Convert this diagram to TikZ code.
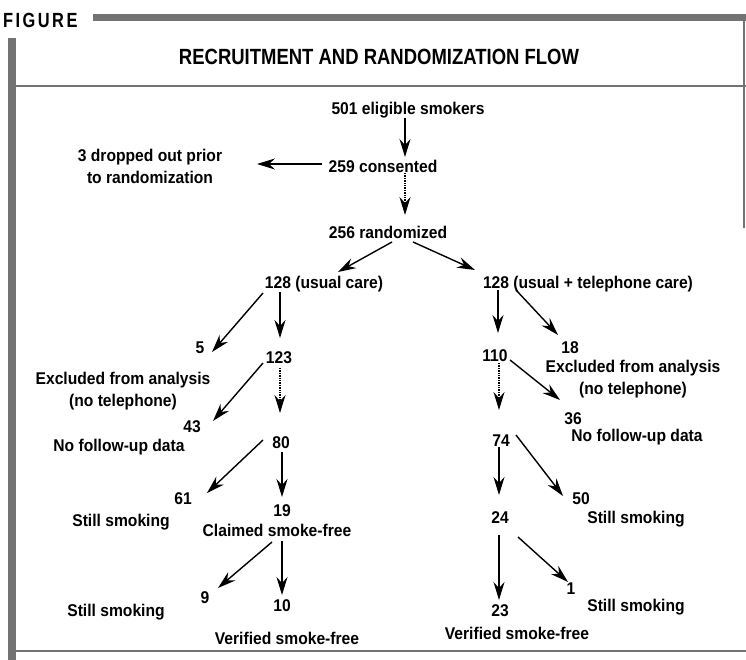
\documentclass[tikz,border=0pt]{standalone}
\usepackage{fontspec}
\setmainfont{Liberation Sans}
\newfontfamily\cond{Liberation Sans}[FakeStretch=0.92]
\newfontfamily\condt{Liberation Sans}[FakeStretch=0.84]
\newfontfamily\figfont{Liberation Sans}[FakeStretch=0.8,LetterSpace=12]
\usetikzlibrary{arrows.meta}
\tikzset{
  txt/.style={font=\cond\bfseries\fontsize{17}{22}\selectfont, inner sep=0pt, text height=12.2pt, text depth=0pt},
  txtm/.style={font=\cond\bfseries\fontsize{17}{22}\selectfont, inner sep=0pt, align=center, anchor=base},
  arr/.style={line width=1.4pt, -{Stealth[length=18pt,width=11pt,inset=6pt]}},
  darr/.style={arr, densely dotted},
  rule/.style={draw=black!55, line width=1.8pt},
  bar/.style={fill=black!55}
}
\begin{document}
\begin{tikzpicture}[x=1pt,y=-1pt]
\useasboundingbox (0,0) rectangle (746,660);
% frame
\node[font=\figfont\bfseries\fontsize{20.5}{21}\selectfont, inner sep=0pt, anchor=west, text height=14.7pt, text depth=0pt] (fig) at (3,20) {FIGURE};
\fill[bar] (93,14) rectangle (746,21);
\fill[bar] (8,38) rectangle (16,660);
\draw[rule] (16,86) -- (746,86);
\draw[draw=black!55, line width=1.4pt] (744,21) -- (744,228);
\draw[draw=black!55, line width=2.5pt] (16,651) -- (746,651);
\node[font=\condt\bfseries\fontsize{22}{22}\selectfont, inner sep=0pt, text height=15.8pt, text depth=0pt] (title) at (379,57) {RECRUITMENT AND RANDOMIZATION FLOW};
% nodes
\node[txt] (n501) at (408,108) {501 eligible smokers};
\node[txt] (n259) at (383,166) {259 consented};
\node[txtm] (ndrop) at (150,184) {3 dropped out prior\\to randomization};
\node[txt] (n256) at (388,232) {256 randomized};
\node[txt] (nuc) at (324,282) {128 (usual care)};
\node[txt] (ntc) at (588,282) {128 (usual + telephone care)};
\node[txt] (n5) at (200,347) {5};
\node[txt] (n123) at (279,357) {123};
\node[txtm] (nexL) at (123,406) {Excluded from analysis\\(no telephone)};
\node[txt] (n43) at (192,426) {43};
\node[txt] (nnfL) at (119,445) {No follow-up data};
\node[txt] (n80) at (281,442) {80};
\node[txt] (n61) at (183,498) {61};
\node[txt] (nssL1) at (121,520) {Still smoking};
\node[txt] (n19) at (282,510) {19};
\node[txt] (nclaim) at (277,530) {Claimed smoke-free};
\node[txt] (n9) at (205,597) {9};
\node[txt] (nssL2) at (116,610) {Still smoking};
\node[txt] (n10) at (282,605) {10};
\node[txt] (nverL) at (287,638) {Verified smoke-free};
\node[txt] (n18) at (570,347) {18};
\node[txt] (n110) at (495,355) {110};
\node[txtm] (nexR) at (633,394) {Excluded from analysis\\(no telephone)};
\node[txt] (n36) at (573,418) {36};
\node[txt] (nnfR) at (637,435) {No follow-up data};
\node[txt] (n74) at (501,440) {74};
\node[txt] (n50) at (581,498) {50};
\node[txt] (nssR1) at (636,517) {Still smoking};
\node[txt] (n24) at (500,517) {24};
\node[txt] (n1) at (571,588) {1};
\node[txt] (nssR2) at (636,605) {Still smoking};
\node[txt] (n23) at (500,610) {23};
\node[txt] (nverR) at (517,633) {Verified smoke-free};
% arrows
\draw[arr] ([shift={(-3,10)}]n501.center) -- ([shift={(22,-9)}]n259.center);
\draw[arr] ([shift={(-61,-2)}]n259.center) -- ([shift={(107,-20)}]ndrop.base);
\draw[darr] ([shift={(22,7)}]n259.center) -- ([shift={(17,-17)}]n256.center);
\draw[arr] ([shift={(4,10)}]n256.center) -- ([shift={(14,-10)}]nuc.center);
\draw[arr] ([shift={(25,10)}]n256.center) -- ([shift={(-113,-12)}]ntc.center);
\draw[arr] ([shift={(-61,11)}]nuc.center) -- ([shift={(12,5)}]n5.center);
\draw[arr] ([shift={(-44,10)}]nuc.center) -- ([shift={(1,-19)}]n123.center);
\draw[arr] ([shift={(-16,6)}]n123.center) -- ([shift={(21,-5)}]n43.center);
\draw[darr] ([shift={(1,11)}]n123.center) -- ([shift={(-1,-29)}]n80.center);
\draw[arr] ([shift={(-18,-2)}]n80.center) -- ([shift={(24,-5)}]n61.center);
\draw[arr] ([shift={(1,10)}]n80.center) -- ([shift={(0,-13)}]n19.center);
\draw[arr] ([shift={(-5,12)}]nclaim.center) -- ([shift={(13,-9)}]n9.center);
\draw[arr] ([shift={(5,11)}]nclaim.center) -- ([shift={(0,-10)}]n10.center);
\draw[arr] ([shift={(-90,8)}]ntc.center) -- ([shift={(3,-22)}]n110.center);
\draw[arr] ([shift={(-72,8)}]ntc.center) -- ([shift={(-12,-12)}]n18.center);
\draw[darr] ([shift={(4,8)}]n110.center) -- ([shift={(-2,-30)}]n74.center);
\draw[arr] ([shift={(15,5)}]n110.center) -- ([shift={(-13,-18)}]n36.center);
\draw[arr] ([shift={(-2,7)}]n74.center) -- ([shift={(-1,-22)}]n24.center);
\draw[arr] ([shift={(15,-5)}]n74.center) -- ([shift={(-18,-2)}]n50.center);
\draw[arr] ([shift={(-1,18)}]n24.center) -- ([shift={(-1,-10)}]n23.center);
\draw[arr] ([shift={(18,20)}]n24.center) -- ([shift={(-3,-6)}]n1.center);
\end{tikzpicture}
\end{document}
